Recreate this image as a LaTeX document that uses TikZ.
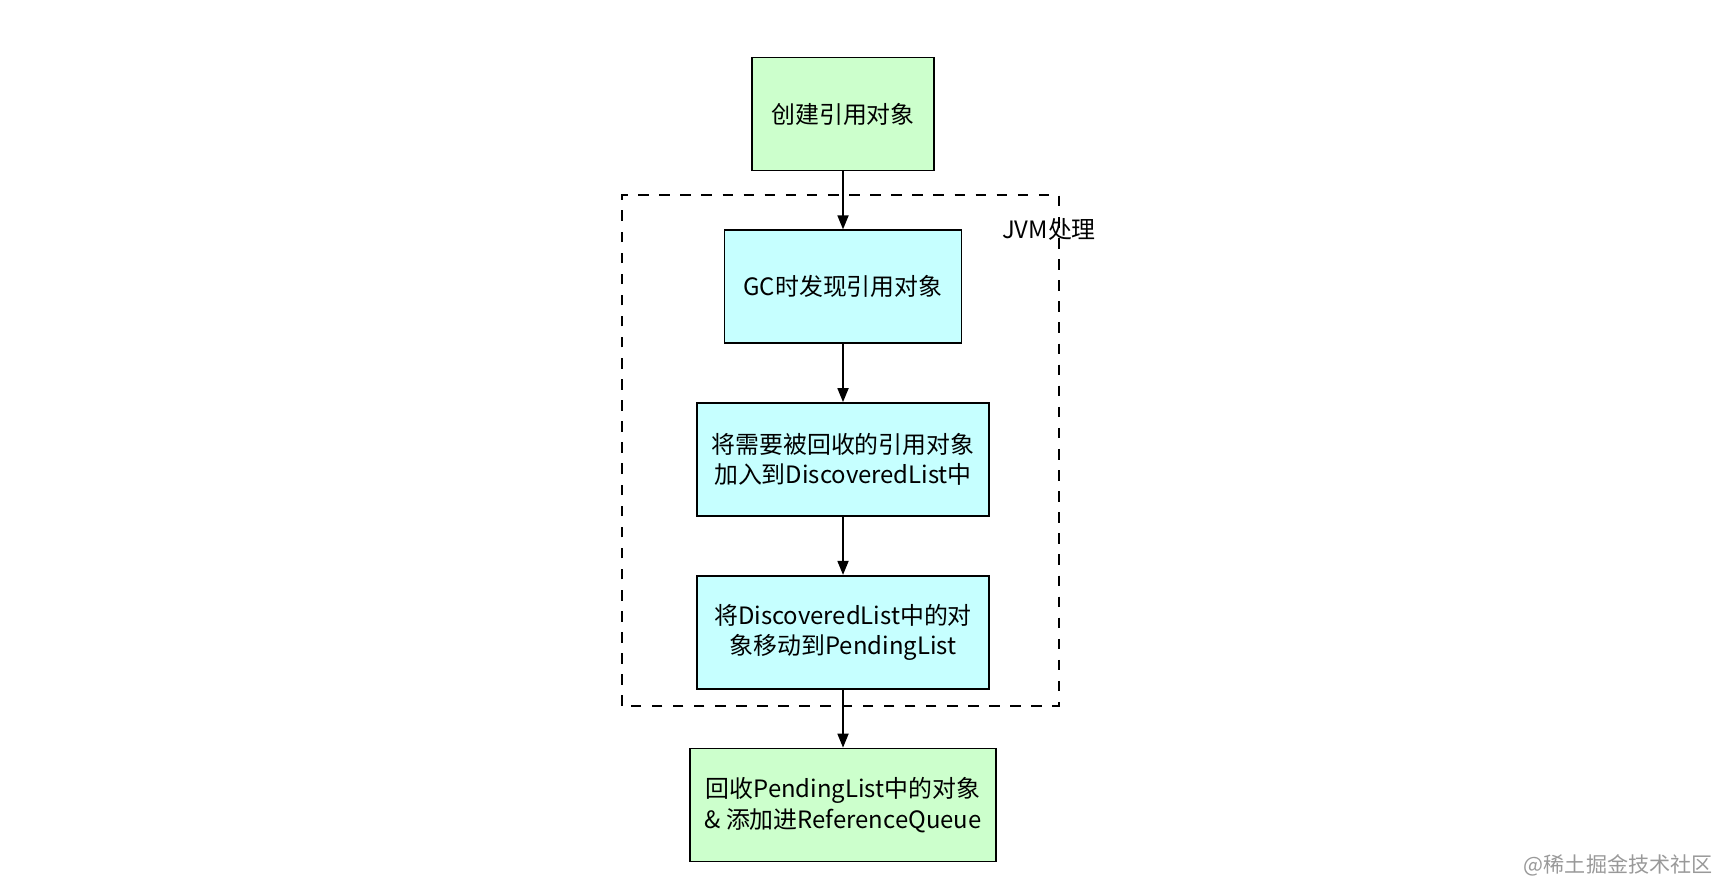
\documentclass[tikz,border=0pt]{standalone}
\usepackage{fontspec}
\setmainfont{Noto Sans CJK SC}
\usetikzlibrary{arrows.meta, positioning}

\definecolor{stagegreen}{HTML}{CCFFCC}
\definecolor{stagecyan}{HTML}{C6FFFF}

\begin{document}
\begin{tikzpicture}[
  stage/.style={draw, line width=0.5pt, minimum height=1.13cm, inner sep=1pt, font=\fontsize{6.8}{8.6}\selectfont, align=center},
  arr/.style={-{Triangle[length=1.4mm, width=1.1mm]}, line width=0.5pt},
  every node/.style={font=\fontsize{6.8}{8.6}\selectfont}
]
  \useasboundingbox (0,0) rectangle (17.3,8.93);
  \node[stage, fill=stagegreen, minimum width=1.82cm] (create) at (8.43,7.79) {创建引用对象};
  \node[stage, fill=stagecyan, minimum width=2.37cm, below=0.58cm of create] (found) {GC时发现引用对象};
  \node[stage, fill=stagecyan, minimum width=2.92cm, below=0.58cm of found] (discovered) {将需要被回收的引用对象\\加入到DiscoveredList中};
  \node[stage, fill=stagecyan, minimum width=2.92cm, below=0.58cm of discovered] (pending) {将DiscoveredList中的对\\象移动到PendingList};
  \node[stage, fill=stagegreen, minimum width=3.06cm, below=0.58cm of pending] (enqueue) {回收PendingList中的对象\\\& 添加进ReferenceQueue};
  % JVM region
  \draw[dashed, line width=0.5pt] (6.22,1.87) rectangle (10.59,6.98);
  \node (jvm) at (10.49,6.64) {JVM处理};
  \draw[arr] (create) -- (found);
  \draw[arr] (found) -- (discovered);
  \draw[arr] (discovered) -- (pending);
  \draw[arr] (pending) -- (enqueue);
  \node[text=gray!80, font=\fontsize{6}{7}\selectfont, anchor=east] (mark) at (17.25,0.28) {@稀土掘金技术社区};
\end{tikzpicture}
\end{document}
